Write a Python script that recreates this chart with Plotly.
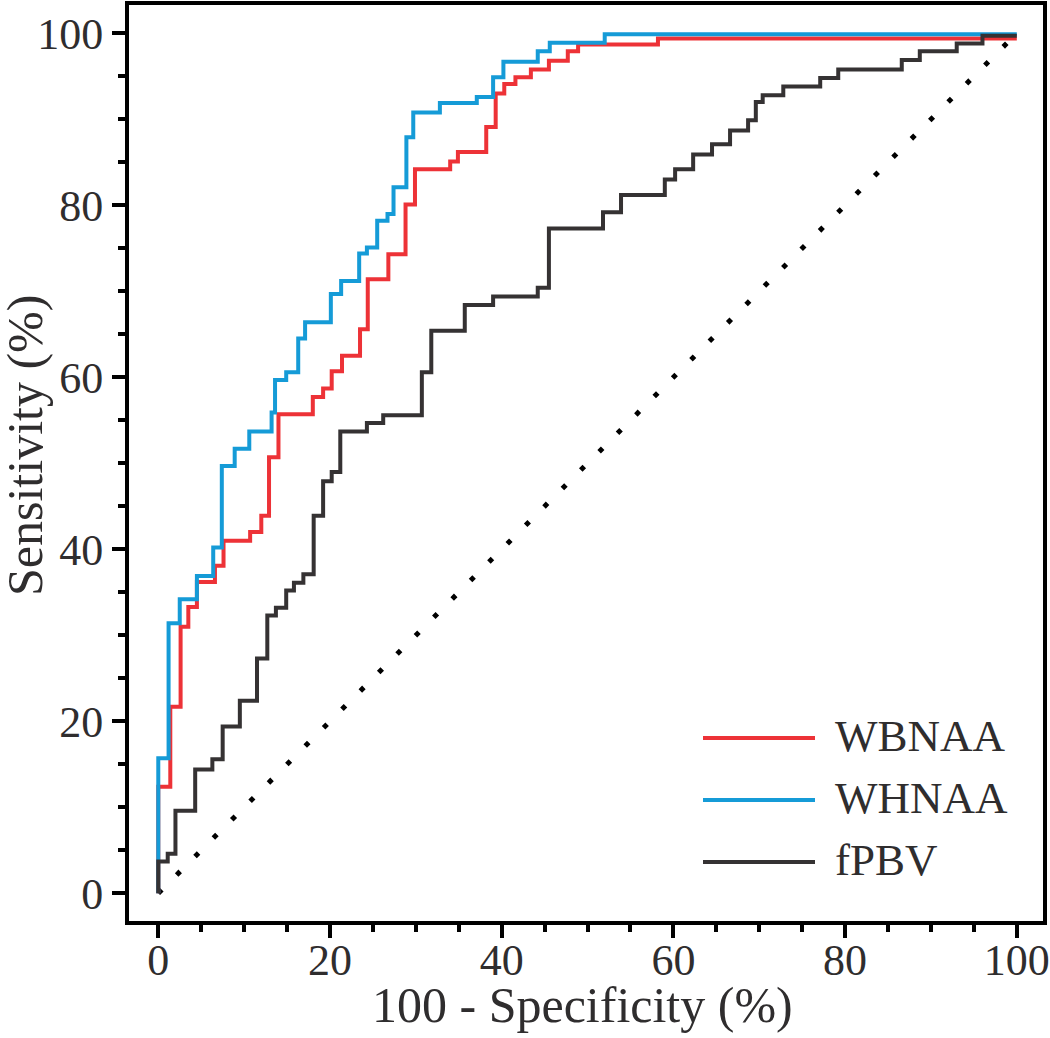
import plotly.graph_objects as go

# ROC step curves (x = 100 - Specificity %, y = Sensitivity %)
wbnaa_x = [0, 0, 1.4, 2.6, 3.5, 4.5, 6.6, 7.6, 10.7, 12.0, 12.9, 14.0, 18.0, 19.2, 20.2, 21.4, 23.5,
           24.4, 26.8, 28.8, 29.9, 34.0, 34.9, 38.2, 39.3, 40.3, 41.6, 43.4, 45.5, 47.7, 48.9, 58.2, 100]
wbnaa_y = [0, 12.4, 21.7, 31.0, 33.3, 36.2, 38.1, 41.0, 42.0, 43.9, 50.7, 55.7, 57.7, 58.7, 60.7, 62.5, 65.6,
           71.4, 74.3, 80.1, 84.2, 85.1, 86.2, 89.1, 93.0, 94.1, 94.9, 95.8, 96.8, 97.9, 98.7, 99.4, 99.4]

whnaa_x = [0, 0, 1.2, 2.5, 4.5, 6.4, 7.4, 8.9, 10.6, 13.2, 13.6, 14.9, 16.3, 17.1, 20.1, 21.3, 23.4,
           24.3, 25.5, 26.7, 27.4, 28.9, 29.7, 32.8, 37.1, 39.0, 40.2, 44.2, 45.6, 52.0, 100]
whnaa_y = [0, 15.7, 31.4, 34.2, 36.9, 40.2, 49.7, 51.7, 53.7, 55.9, 59.7, 60.6, 64.5, 66.4, 69.7, 71.2, 74.4,
           75.1, 78.2, 79.0, 82.1, 87.9, 90.8, 91.9, 92.6, 94.9, 96.7, 97.9, 98.9, 99.9, 99.9]

fpbv_x = [0, 0, 1.1, 2.0, 4.3, 6.3, 7.5, 9.5, 11.5, 12.7, 13.7, 14.9, 15.8, 16.9, 18.1, 19.2, 20.2, 21.2,
          24.3, 26.2, 30.7, 31.8, 35.7, 39.0, 44.2, 45.5, 51.8, 53.9, 59.0, 60.2, 62.3, 64.5, 66.6, 68.7,
          69.6, 70.4, 72.8, 77.1, 79.2, 86.6, 88.7, 93.0, 96.0, 100]
fpbv_y = [0, 3.7, 4.6, 9.6, 14.4, 15.6, 19.4, 22.4, 27.3, 32.3, 33.2, 35.2, 36.1, 37.1, 43.9, 47.9, 49.0, 53.7,
          54.7, 55.6, 60.6, 65.4, 68.4, 69.4, 70.4, 77.3, 79.2, 81.2, 83.0, 84.2, 85.9, 87.1, 88.7, 89.9,
          92.0, 92.8, 93.8, 94.8, 95.8, 96.9, 97.9, 98.8, 99.7, 99.7]

chance_x = [0, 100]
chance_y = [0, 100]

series_names = ["WBNAA", "WHNAA", "fPBV"]
series_colors = ["#ED3237", "#159BD7", "#353233"]

x_ticks = [0, 20, 40, 60, 80, 100]
y_ticks = [0, 20, 40, 60, 80, 100]
x_title = "100 - Specificity (%)"
y_title = "Sensitivity (%)"

FONT = "Liberation Serif"
TXT = "#2f2d2e"

# plot-area geometry in pixels (for paper-coordinate conversion of decorations)
L, R, T, B = 129, 1043, 5, 921
W, H = float(R - L), float(B - T)


def px_x(px):
    return (px - L) / W


def px_y(py):
    return (B - py) / H


fig = go.Figure()
fig.add_trace(go.Scatter(x=chance_x, y=chance_y, mode="lines", showlegend=False, hoverinfo="skip",
                         line=dict(color="black", width=5, dash="5px,21px")))
for xs, ys, name, col in [(wbnaa_x, wbnaa_y, series_names[0], series_colors[0]),
                          (whnaa_x, whnaa_y, series_names[1], series_colors[1]),
                          (fpbv_x, fpbv_y, series_names[2], series_colors[2])]:
    fig.add_trace(go.Scatter(x=xs, y=ys, mode="lines", name=name, showlegend=False,
                             line=dict(color=col, width=4, shape="hv")))

# legend drawn as line samples + text
rows_py = [738, 800, 862]
for py, name, col in zip(rows_py, series_names, series_colors):
    fig.add_shape(type="line", xref="paper", yref="paper",
                  x0=px_x(703), x1=px_x(815), y0=px_y(py), y1=px_y(py),
                  line=dict(color=col, width=4))
    fig.add_annotation(xref="paper", yref="paper", x=px_x(833), y=px_y(py - 2),
                       text=name, showarrow=False, xanchor="left", yanchor="middle",
                       font=dict(family=FONT, size=45, color=TXT))

# axis titles
fig.add_annotation(xref="paper", yref="paper", x=px_x(582), y=px_y(1005), text=x_title,
                   showarrow=False, xanchor="center", yanchor="middle",
                   font=dict(family=FONT, size=50, color=TXT))
fig.add_annotation(xref="paper", yref="paper", x=px_x(25), y=px_y(446), text=y_title,
                   showarrow=False, xanchor="center", yanchor="middle", textangle=-90,
                   font=dict(family=FONT, size=50, color=TXT))

axis_common = dict(
    showline=True, linecolor="black", linewidth=4, mirror=True,
    ticks="outside", tickcolor="black", tickwidth=4, ticklen=13,
    showgrid=False, zeroline=False, automargin=False,
    tickfont=dict(family=FONT, size=44, color=TXT),
    minor=dict(dtick=5, ticks="outside", ticklen=7, tickwidth=4, tickcolor="black", showgrid=False),
)

fig.update_xaxes(range=[-3.41, 103.05], tickvals=x_ticks, ticktext=[str(v) for v in x_ticks],
                 ticklabelstandoff=-16, **axis_common)
fig.update_yaxes(range=[-3.22, 103.29], tickvals=y_ticks, ticktext=[str(v) for v in y_ticks], **axis_common)

fig.update_layout(width=1050, height=1038, margin=dict(l=L, r=1050 - R, t=T, b=1038 - B),
                  paper_bgcolor="white", plot_bgcolor="white", showlegend=False)

fig.write_html("out.html", config={"displayModeBar": False},
               post_script="document.body.style.margin='0';document.body.style.overflow='hidden';")
